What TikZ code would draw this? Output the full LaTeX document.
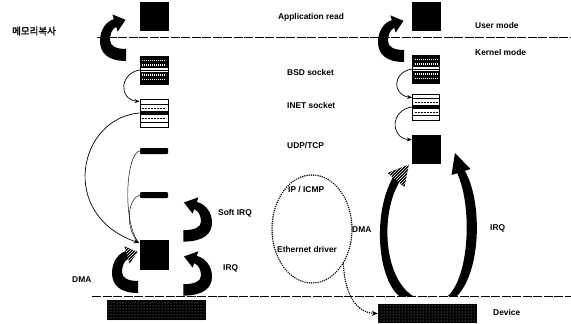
\documentclass[tikz,border=0pt]{standalone}
\usepackage{fontspec}
\setmainfont{Liberation Sans}
\newfontfamily\kofont[FakeBold=2]{Noto Sans CJK KR}
\usetikzlibrary{arrows.meta,shapes.geometric,patterns,calc}
\begin{document}
\begin{tikzpicture}[x=1pt,y=-1pt,
  lbl/.style={font=\fontsize{8.4}{9}\selectfont\bfseries, anchor=west, inner sep=0pt},
  blk/.style={fill=black, draw=black, inner sep=0pt, minimum width=28pt, minimum height=28pt},
  barbox/.style={fill=black, inner sep=0pt, minimum width=28pt, minimum height=6pt, rounded corners=1pt},
  bsdbox/.style={blk, path picture={
    \foreach \fr in {0.16,0.32,0.68,0.84}{
      \draw[white, line width=1.4pt, dash pattern=on 1.3pt off 0.7pt]
        ($(path picture bounding box.north west)!\fr!(path picture bounding box.south west)+(2,0)$) --
        ($(path picture bounding box.north east)!\fr!(path picture bounding box.south east)+(-2,0)$);}
    \fill[white] ($(path picture bounding box.west)+(0,-2)$) rectangle ($(path picture bounding box.east)+(0,2)$);
    \draw[black, line width=0.5pt] (path picture bounding box.west) -- (path picture bounding box.east);
  }},
  inetbox/.style={draw=black, fill=white, line width=0.9pt, inner sep=0pt, minimum width=28pt, minimum height=28pt, path picture={
    \foreach \fr in {0.18,0.84}{
      \draw[line width=0.7pt]
        ($(path picture bounding box.north west)!\fr!(path picture bounding box.south west)$) --
        ($(path picture bounding box.north east)!\fr!(path picture bounding box.south east)$);}
    \foreach \fr in {0.33,0.70}{
      \draw[line width=0.6pt, dash pattern=on 2pt off 1pt]
        ($(path picture bounding box.north west)!\fr!(path picture bounding box.south west)+(2,0)$) --
        ($(path picture bounding box.north east)!\fr!(path picture bounding box.south east)+(-2,0)$);}
    \fill[black] ($(path picture bounding box.west)+(0,-2.5)$) rectangle ($(path picture bounding box.east)+(0,2)$);
  }},
  devbox/.style={fill=black, inner sep=0pt, minimum width=99pt, minimum height=20pt},
  conn/.style={line width=0.7pt, -{Stealth[length=5pt,width=4pt]}},
  thinl/.style={line width=0.45pt},
  sepline/.style={line width=0.8pt, dash pattern=on 9pt off 1.5pt},
  dotline/.style={line width=1.6pt, line cap=round, dash pattern=on 0pt off 2.2pt},
  carrow/.pic={
    \fill[black] (26,48) .. controls (8,48) and (0,40) .. (0,28) .. controls (0,16) and (7,8) .. (13.8,6.2)
      -- (12.4,1.4) -- (25.5,6.8) -- (17.6,18.6) -- (16.2,13.8)
      .. controls (12,16) and (10,21) .. (10,27) .. controls (10,33) and (16,36) .. (26,36) -- cycle;
  },
  carrowh/.pic={
    \fill[black] (26,48) .. controls (8,48) and (0,40) .. (0,28) .. controls (0,16) and (7,8) .. (13.8,6.2)
      -- (12.4,1.4) -- (25.5,6.8) -- (17.6,18.6) -- (16.2,13.8)
      .. controls (12,16) and (10,21) .. (10,27) .. controls (10,33) and (16,36) .. (26,36) -- cycle;
    \fill[pattern=north east lines, pattern color=white] (13.8,6.2) -- (12.4,1.4) -- (25.5,6.8) -- (17.6,18.6) -- (16.2,13.8) -- cycle;
  }
]
\fill[white] (0,0) rectangle (571,324);
\useasboundingbox (0,0) rectangle (571,324);

% separators
\coordinate (sepTl) at (97,37);
\coordinate (sepTr) at (571,37);
\coordinate (sepBl) at (92,296);
\coordinate (sepBr) at (571,296);
\draw[sepline] (sepTl) -- (sepTr);
\draw[sepline] (sepBl) -- (sepBr);

% left column
\node[blk] (appL) at (154,16) {};
\node[bsdbox] (bsdL) at (154,70) {};
\node[inetbox] (inetL) at (154,113) {};
\node[barbox] (bar1) at (154,151) {};
\node[barbox] (bar2) at (154,195) {};
\node[blk, minimum height=29pt] (drvL) at (154,254.5) {};
\node[devbox] (devL) at (156.5,310) {};
\fill[pattern=dots, pattern color=gray!60] (devL.north west) rectangle (devL.south east);

% right column
\node[blk] (appR) at (426,16) {};
\node[bsdbox, minimum width=27pt] (bsdR) at (426,69) {};
\node[inetbox, minimum width=27pt, minimum height=26pt] (inetR) at (426,107) {};
\node[blk] (udpR) at (426,149) {};
\node[devbox, minimum height=19pt] (devR) at (427.5,313.5) {};
\fill[pattern=dots, pattern color=gray!60] (devR.north west) rectangle (devR.south east);

% thin connectors left
\coordinate (drvIn) at ($(drvL.north west)+(-1,3)$);
\draw[conn] (bsdL.west) .. controls (120,73) and (118,99) .. ($(inetL.north west)+(0,3)$);
\draw[conn] (inetL.west) .. controls (78,118) and (58,215) .. (drvIn);
\draw[thinl] (bar1.west) .. controls (126,153) and (122,222) .. (drvIn);
\draw[thinl] (bar2.west) .. controls (128,198) and (124,228) .. (drvIn);

% thin connectors right
\draw[conn] (bsdR.west) .. controls (392,72) and (392,95) .. ($(inetR.north west)+(0,4)$);
\draw[conn] (inetR.west) .. controls (390,110) and (390,138) .. ($(udpR.north west)+(0,5)$);

% curved block arrows
\pic at (100,13) {carrow};
\pic at (378,14) {carrow};
\pic at (112,245) {carrowh};
\pic[xscale=-1.1, yscale=0.95] at (212,196) {carrow};
\pic[xscale=-1.1, yscale=0.95] at (212,250) {carrow};

% big crescents (right)
\fill[black] (399,296) .. controls (378,278) and (372,215) .. (392.9,177.4)
  -- (387.5,173) -- (408.8,164.6) -- (404.5,187) -- (399.1,182.6)
  .. controls (380,215) and (384,278) .. (413,296) -- cycle;
\fill[pattern=north east lines, pattern color=white] (392.9,177.4) -- (387.5,173) -- (408.8,164.6) -- (404.5,187) -- (399.1,182.6) -- cycle;
\fill[black] (448,296) .. controls (470,275) and (472,205) .. (457.2,173.2)
  -- (451.5,175) -- (455,153) -- (470.5,169) -- (464.8,170.8)
  .. controls (482,200) and (482,270) .. (457,296) -- cycle;

% dotted ellipse and arrow
\node[ellipse, draw, dotline, minimum width=80pt, minimum height=108pt, inner sep=0pt] (ipstack) at (312,229) {};
\draw[dotline, -{Stealth[length=6pt,width=5pt]}] (ipstack.-48) .. controls (345,300) and (360,313) .. (devR.west);

% labels
\node[font=\kofont\fontsize{9.5}{10}\selectfont, inner sep=0pt] (tMem) at (34,31) {메모리복사};
\node[lbl, anchor=center] (tApp) at (311,17) {Application read};
\node[lbl] (tBsd) at (287,72) {BSD socket};
\node[lbl] (tInet) at (287,105) {INET socket};
\node[lbl] (tUdp) at (287,146) {UDP/TCP};
\node[lbl] (tIp) at (288,190) {IP / ICMP};
\node[lbl] (tEth) at (277,249) {Ethernet driver};
\node[lbl] (tSoft) at (218,213) {Soft IRQ};
\node[lbl] (tIrqL) at (223,268) {IRQ};
\node[lbl] (tDmaL) at (72,280) {DMA};
\node[lbl] (tUser) at (475,25) {User mode};
\node[lbl] (tKern) at (475,52) {Kernel mode};
\node[lbl] (tDmaR) at (352,230) {DMA};
\node[lbl] (tIrqR) at (490,228) {IRQ};
\node[lbl] (tDev) at (493,312) {Device};
\end{tikzpicture}
\end{document}
